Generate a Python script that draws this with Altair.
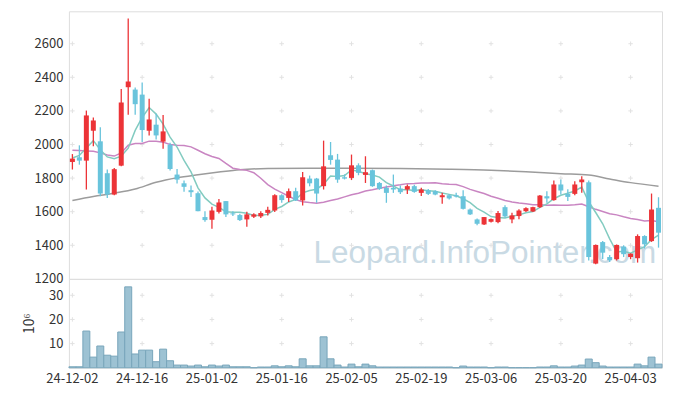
import altair as alt
import pandas as pd

# ---------------- data ----------------
dates = [
    "24-12-02", "24-12-03", "24-12-04", "24-12-05", "24-12-06", "24-12-09", "24-12-10", "24-12-11",
    "24-12-12", "24-12-13", "24-12-16", "24-12-17", "24-12-18", "24-12-19", "24-12-20", "24-12-23",
    "24-12-24", "24-12-26", "24-12-27", "24-12-30",
    "25-01-02", "25-01-03", "25-01-06", "25-01-07", "25-01-08", "25-01-09", "25-01-10", "25-01-13",
    "25-01-14", "25-01-15", "25-01-16", "25-01-17", "25-01-20", "25-01-21", "25-01-22", "25-01-23",
    "25-01-24", "25-01-31",
    "25-02-03", "25-02-04", "25-02-05", "25-02-06", "25-02-07", "25-02-10", "25-02-11", "25-02-12",
    "25-02-13", "25-02-14", "25-02-17", "25-02-18", "25-02-19", "25-02-20", "25-02-21", "25-02-24",
    "25-02-25", "25-02-26", "25-02-27", "25-02-28",
    "25-03-04", "25-03-05", "25-03-06", "25-03-07", "25-03-10", "25-03-11", "25-03-12", "25-03-13",
    "25-03-14", "25-03-17", "25-03-18", "25-03-19", "25-03-20", "25-03-21", "25-03-24", "25-03-25",
    "25-03-26", "25-03-27", "25-03-28", "25-03-31",
    "25-04-01", "25-04-02", "25-04-03", "25-04-04", "25-04-07", "25-04-08", "25-04-09",
]

opens = [1896, 1924, 1904, 2082, 2019, 1829, 1702, 1874, 2341, 2327, 2297, 2082, 2118, 2017, 1999, 1821,
         1769, 1728, 1710, 1568, 1552, 1599, 1663, 1590, 1580, 1554, 1570, 1572, 1593, 1607, 1698, 1682,
         1722, 1667, 1797, 1797, 1752, 1936, 1910, 1805, 1801, 1876, 1819, 1847, 1771, 1742, 1742, 1738,
         1732, 1752, 1712, 1728, 1722, 1686, 1698, 1698, 1692, 1613, 1554, 1524, 1540, 1538, 1627, 1554,
         1574, 1603, 1601, 1627, 1692, 1669, 1762, 1706, 1706, 1775, 1775, 1291, 1419, 1330, 1317, 1392,
         1330, 1323, 1455, 1425, 1623]
highs = [1943, 1995, 2202, 2160, 2102, 1851, 1860, 2331, 2750, 2339, 2369, 2272, 2183, 2175, 2011, 1854,
         1785, 1756, 1720, 1603, 1629, 1675, 1663, 1603, 1587, 1600, 1590, 1603, 1629, 1704, 1704, 1738,
         1742, 1837, 1815, 1801, 2023, 2015, 1944, 1822, 1940, 1888, 1930, 1851, 1777, 1756, 1821, 1756,
         1762, 1760, 1742, 1735, 1728, 1712, 1706, 1712, 1728, 1619, 1560, 1568, 1560, 1604, 1638, 1594,
         1614, 1627, 1630, 1700, 1722, 1785, 1791, 1733, 1781, 1811, 1785, 1404, 1425, 1342, 1405, 1400,
         1352, 1465, 1460, 1708, 1686]
lows = [1851, 1880, 1732, 1989, 1692, 1682, 1698, 1870, 2177, 2177, 2015, 2054, 2029, 1975, 1845, 1768,
        1718, 1688, 1603, 1540, 1498, 1589, 1569, 1574, 1545, 1511, 1562, 1562, 1578, 1598, 1653, 1657,
        1663, 1637, 1751, 1653, 1732, 1880, 1772, 1792, 1789, 1817, 1771, 1748, 1730, 1653, 1712, 1706,
        1706, 1712, 1693, 1700, 1698, 1647, 1672, 1684, 1613, 1580, 1520, 1521, 1535, 1531, 1564, 1531,
        1555, 1598, 1598, 1622, 1653, 1665, 1702, 1663, 1698, 1712, 1310, 1287, 1319, 1300, 1310, 1330,
        1317, 1297, 1380, 1420, 1386]
closes = [1916, 1904, 2173, 2143, 1708, 1702, 1853, 2250, 2375, 2240, 2086, 2149, 2054, 2078, 1854, 1791,
          1748, 1716, 1603, 1550, 1607, 1655, 1584, 1584, 1550, 1584, 1584, 1592, 1611, 1698, 1669, 1722,
          1667, 1805, 1769, 1708, 1870, 1908, 1791, 1797, 1876, 1831, 1835, 1752, 1736, 1712, 1732, 1716,
          1752, 1718, 1732, 1706, 1702, 1698, 1679, 1690, 1617, 1584, 1528, 1568, 1556, 1592, 1572, 1578,
          1607, 1621, 1627, 1696, 1679, 1762, 1726, 1688, 1762, 1791, 1330, 1402, 1356, 1311, 1402, 1347,
          1350, 1455, 1406, 1613, 1475]

# volume in millions of shares
volumes = [0.4, 0.4, 15.2, 4.4, 9.0, 5.2, 4.8, 14.8, 33.5, 5.7, 7.3, 7.3, 2.5, 7.7, 2.9, 1.1,
           1.1, 0.7, 1.1, 0.4, 1.1, 0.7, 1.1, 0.4, 0.4, 0.4, 0.0, 0.3, 0.3, 0.8, 0.4, 0.8,
           0.4, 3.7, 0.8, 0.8, 12.8, 3.7, 1.1, 0.3, 1.5, 0.4, 1.5, 0.8, 0.3, 0.3, 0.3, 0.3,
           0.3, 0.3, 0.3, 0.3, 0.3, 0.3, 0.3, 0.0, 0.7, 0.3, 0.3, 0.3, 0.0, 0.3, 0.3, 0.0,
           0.0, 0.0, 0.0, 0.3, 0.3, 0.8, 0.3, 0.3, 0.7, 1.1, 3.6, 2.1, 0.7, 0.3, 0.3, 0.3,
           0.3, 1.5, 0.8, 4.4, 1.5]

# short moving average (teal)
ma_short = [1920, 1935, 1979, 2023, 1969, 1926, 1916, 1931, 1978, 2084, 2161, 2220, 2181, 2121, 2044, 1985,
            1905, 1837, 1742, 1682, 1645, 1626, 1600, 1596, 1596, 1591, 1577, 1579, 1584, 1614, 1631, 1658,
            1673, 1712, 1726, 1734, 1764, 1812, 1809, 1815, 1848, 1841, 1826, 1818, 1806, 1773, 1753, 1730,
            1730, 1726, 1730, 1725, 1722, 1711, 1703, 1695, 1677, 1654, 1620, 1597, 1571, 1566, 1563, 1573,
            1581, 1594, 1601, 1626, 1646, 1677, 1698, 1710, 1723, 1746, 1659, 1595, 1528, 1438, 1360, 1364,
            1353, 1373, 1392, 1434, 1460]

# medium moving average (pink)
ma_mid = [1966, 1964, 1962, 1960, 1950, 1937, 1931, 1950, 1996, 2006, 2006, 2020, 2020, 2014, 2000, 1996,
          1994, 1986, 1966, 1945, 1929, 1917, 1887, 1859, 1851, 1846, 1832, 1799, 1761, 1734, 1713, 1692,
          1672, 1659, 1654, 1650, 1656, 1666, 1675, 1688, 1701, 1710, 1723, 1731, 1740, 1747, 1754, 1760,
          1767, 1768, 1771, 1771, 1772, 1767, 1763, 1762, 1749, 1733, 1720, 1708, 1692, 1680, 1667, 1658,
          1652, 1647, 1642, 1641, 1638, 1640, 1639, 1639, 1642, 1646, 1629, 1614, 1601, 1588, 1581, 1570,
          1560, 1553, 1545, 1547, 1540]

# long moving average (grey), read at these candle positions
ma_long_pos = [0, 3, 6, 9, 12, 15, 18, 21, 24, 28, 34, 40, 47, 54, 60, 65, 70, 74, 77, 80, 84]
ma_long_val = [1667, 1690, 1710, 1735, 1775, 1802, 1820, 1836, 1850, 1857, 1859, 1859, 1857, 1853, 1847,
               1838, 1826, 1818, 1795, 1773, 1752]

price_ticks = [1200, 1400, 1600, 1800, 2000, 2200, 2400, 2600]
volume_ticks = [10, 20, 30]
label_positions = [0, 10, 20, 30, 40, 50, 60, 70, 80]
watermark = "Leopard.InfoPointer.com"

# ---------------- styling ----------------
RED = "#EC3337"
BLUE = "#69C4DC"
TEAL = "#82CBC0"
PINK = "#C985C2"
GREY = "#9C9C9C"
GRID = "#E2E2E2"
FONT = "Noto Sans CJK KR"
W = 594
H_PRICE = 268
H_VOL = 89
PRICE_DOMAIN = [1200, 2793]
VOL_DOMAIN = [0, 36.8]

df = pd.DataFrame({
    "date": dates, "open": opens, "high": highs, "low": lows, "close": closes,
    "volume": volumes, "ma_short": ma_short, "ma_mid": ma_mid,
})
df["dir"] = ["up" if c >= o else "down" for o, c in zip(opens, closes)]

long_df = pd.DataFrame({"date": [dates[i] for i in ma_long_pos], "v": ma_long_val})
label_dates = [dates[i] for i in label_positions]

price_cross = pd.DataFrame([(d, p) for d in label_dates for p in price_ticks[1:]], columns=["date", "p"])
vol_cross = pd.DataFrame([(d, v) for d in label_dates for v in volume_ticks], columns=["date", "v"])

xscale = alt.Scale(domain=dates, paddingInner=0, paddingOuter=0)
pscale = alt.Scale(domain=PRICE_DOMAIN, nice=False, zero=False)
vscale = alt.Scale(domain=VOL_DOMAIN, nice=False, zero=True)
color = alt.Color("dir:N", scale=alt.Scale(domain=["up", "down"], range=[RED, BLUE]), legend=None)

p_axis = alt.Axis(values=price_ticks, format="d", title=None, grid=False, ticks=False, domain=False,
                  labelFont=FONT, labelFontSize=13, labelColor="#333333", labelPadding=6)
v_axis = alt.Axis(values=volume_ticks, format="d", title="10⁶", grid=False, ticks=False, domain=False,
                  labelFont=FONT, labelFontSize=13, labelColor="#333333", labelPadding=6,
                  titleFont=FONT, titleFontSize=14, titleFontWeight="normal", titleColor="#333333",
                  titlePadding=12)
x_none = alt.X("date:N", scale=xscale, axis=None)


def py(field):
    return alt.Y(field, scale=pscale, axis=p_axis)


CROSS = "M-1,0L1,0M0,-1L0,1"

wm = alt.Chart(pd.DataFrame({"t": [watermark]})).mark_text(
    align="left", baseline="alphabetic", font="Liberation Sans", fontSize=31.5, color="#C9DAE4"
).encode(text="t:N", x=alt.value(245), y=alt.value(252))

pcross = alt.Chart(price_cross).mark_point(shape=CROSS, size=20, filled=False, strokeWidth=1, color=GRID, opacity=1).encode(
    x=x_none, y=py("p:Q"))

line_long = alt.Chart(long_df).mark_line(color=GREY, strokeWidth=1.5, interpolate="monotone").encode(x=x_none, y=py("v:Q"))
line_mid = alt.Chart(df).mark_line(color=PINK, strokeWidth=1.5).encode(x=x_none, y=py("ma_mid:Q"))
line_short = alt.Chart(df).mark_line(color=TEAL, strokeWidth=1.5).encode(x=x_none, y=py("ma_short:Q"))

wick = alt.Chart(df).mark_rule(strokeWidth=1.3).encode(x=x_none, y=py("low:Q"), y2="high:Q", color=color)
body = alt.Chart(df).mark_bar(size=5).encode(x=x_none, y=py("open:Q"), y2="close:Q", color=color)

price = alt.layer(wm, pcross, line_long, line_mid, line_short, wick, body).properties(width=W, height=H_PRICE)

x_axis = alt.Axis(values=label_dates, title=None, labelAngle=0, grid=False, ticks=False, domain=False,
                  labelFont=FONT, labelFontSize=13, labelColor="#333333", labelPadding=5, labelOverlap=False)

vcross = alt.Chart(vol_cross).mark_point(shape=CROSS, size=20, filled=False, strokeWidth=1, color=GRID, opacity=1).encode(
    x=alt.X("date:N", scale=xscale, axis=x_axis), y=alt.Y("v:Q", scale=vscale, axis=v_axis))
vbars = alt.Chart(df).mark_bar(fill="#9DC2D3", stroke="#78A6BB", strokeWidth=1).encode(
    x=alt.X("date:N", scale=xscale, axis=x_axis), y=alt.Y("volume:Q", scale=vscale, axis=v_axis))

vol = alt.layer(vcross, vbars).properties(width=W, height=H_VOL)

chart = alt.vconcat(price, vol, spacing=0, bounds="flush").properties(
    padding={"left": 14, "top": 2, "right": 2, "bottom": 5}
).configure_view(stroke="#E3E3E3", strokeWidth=1).configure(background="white")

chart.save("out.html", embed_options={"renderer": "svg", "actions": False})
